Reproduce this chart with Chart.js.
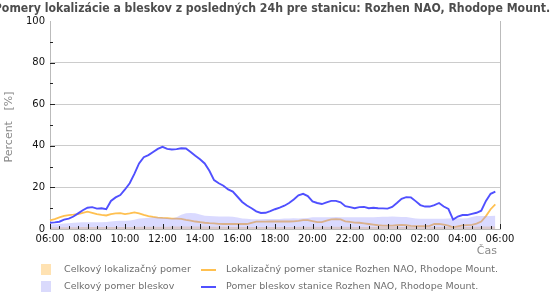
<!DOCTYPE html>
<html><head><meta charset="utf-8">
<script src="https://cdn.jsdelivr.net/npm/chart.js@4.4.1/dist/chart.umd.min.js"></script>
<style>html,body{margin:0;padding:0;background:#fff}#wrap{width:550px;height:300px;position:relative}</style>
</head><body><div id="wrap"><canvas id="c" width="550" height="300"></canvas></div>
<script>
// ---- data, 15-minute steps from 06:00 ----
const TITLE = 'Pomery lokalizácie a bleskov z posledných 24h pre stanicu: Rozhen NAO, Rhodope Mount.';
const Y_TITLE = 'Percent   [%]';
const X_TITLE = 'Čas';
const Y_TICKS = [0, 20, 40, 60, 80, 100];

// time categories 06:00 ... 06:00 (next day)
const TIMES = [];
for (let m = 0; m <= 24 * 60; m += 15) {
  const t = (6 * 60 + m) % (24 * 60);
  TIMES.push(String(Math.floor(t / 60)).padStart(2, '0') + ':' + String(t % 60).padStart(2, '0'));
}

const totalLocalization = [
  0.9,0.9,0.9,0.9, 0.9,0.9,0.9,1.0, 1.0,1.0,1.0,1.0, 1.0,1.0,1.0,1.0,
  1.0,1.0,1.0,1.1, 1.1,1.1,1.1,1.1, 1.1,1.1,1.2,1.2, 1.2,1.2,1.2,1.2,
  1.2,1.2,1.1,1.1, 1.1,1.1,1.0,1.0, 1.0,1.0,1.0,1.0, 1.0,1.0,1.0,1.0,
  1.0,1.0,1.0,1.0, 1.0,1.1,1.1,1.1, 1.1,1.1,1.1,1.1, 1.1,1.1,1.1,1.1,
  1.1,1.0,1.0,1.0, 1.0,1.0,1.0,1.0, 1.0,1.0,1.0,1.0, 1.0,1.0,1.0,1.0,
  1.0,1.0,1.0,1.0, 1.0,1.0,0.8,0.9, 1.0,1.0,1.1,1.1, 1.2,1.2,1.2,1.2
];
const stationLocalization = [
  4.2,4.8,5.6,6.3, 6.7,6.9,7.2,7.8, 8.3,7.8,7.2,6.8, 6.5,7.2,7.5,7.6,
  7.2,7.5,8.0,7.5, 6.8,6.2,5.8,5.5, 5.3,5.2,5.0,5.0, 4.9,4.4,4.0,3.6,
  3.3,3.0,2.8,2.7, 2.5,2.4,2.4,2.4, 2.4,2.4,2.4,3.0, 3.5,3.5,3.5,3.6,
  3.6,3.6,3.6,3.6, 3.7,3.9,4.3,4.3, 3.8,3.3,3.3,4.0, 4.6,4.7,4.6,3.7,
  3.4,3.1,3.0,2.7, 2.4,2.1,1.8,1.6, 1.6,1.6,1.8,2.0, 1.8,1.5,1.4,1.4,
  1.4,1.5,2.4,2.5, 2.1,1.6,0.8,1.3, 1.7,1.9,2.0,2.6, 3.6,6.2,9.5,11.8
];
const totalStrokes = [
  2.2,2.3,2.4,2.6, 2.8,3.0,3.1,3.2, 3.2,3.2,3.3,3.3, 3.4,3.6,3.8,4.0,
  4.0,4.1,4.4,5.0, 5.2,5.4,5.6,5.6, 5.5,5.3,5.1,5.6, 6.8,7.6,7.7,7.6,
  7.0,6.4,6.2,6.1, 6.0,6.0,6.0,5.9, 5.5,5.1,4.9,4.7, 4.7,4.7,4.8,4.8,
  4.8,4.8,5.0,5.1, 5.2,5.1,5.2,5.3, 5.6,5.6,5.7,5.7, 5.7,5.8,5.7,5.6,
  5.6,5.7,5.7,5.6, 5.7,5.7,5.8,5.9, 5.9,6.0,5.9,5.8, 5.8,5.4,5.0,4.9,
  4.9,4.9,4.9,4.9, 4.9,5.0,5.2,5.2, 5.0,5.2,5.8,6.2, 6.3,6.3,6.3,6.4
];
const stationStrokes = [
  3.0,3.2,3.5,4.5, 5.0,6.0,7.5,9.0, 10.2,10.5,9.8,10.0, 9.5,13.5,15.2,16.3,
  19.0,22.0,26.5,31.5, 34.5,35.5,37.0,38.5, 39.5,38.5,38.2,38.4, 38.8,38.7,37.0,35.2,
  33.5,31.5,28.0,23.5, 22.0,20.8,19.0,18.0, 15.5,13.0,11.3,10.0, 8.5,7.7,7.8,8.6,
  9.5,10.3,11.2,12.5, 14.2,16.2,16.9,15.8, 13.3,12.5,12.0,12.8, 13.5,13.5,12.8,11.0,
  10.5,10.0,10.5,10.6, 10.0,10.2,10.0,9.9, 9.8,10.6,12.5,14.5, 15.3,15.2,13.4,11.5,
  10.8,10.8,11.5,12.5, 10.8,9.6,4.5,6.0, 6.7,6.7,7.3,7.8, 8.8,13.5,16.9,18.0
];

const SERIES_NAMES = [
  'Celkový lokalizačný pomer',
  'Lokalizačný pomer stanice Rozhen NAO, Rhodope Mount.',
  'Celkový pomer bleskov',
  'Pomer bleskov stanice Rozhen NAO, Rhodope Mount.'
];

// ---- styles ----
const C_ORANGE_FILL = 'rgba(255,200,100,0.5)';
const C_ORANGE_LINE = 'rgb(255,192,80)';
const C_BLUE_FILL = 'rgba(150,150,255,0.35)';
const C_BLUE_LINE = 'rgb(80,80,255)';
const FONT = "'DejaVu Sans', sans-serif";
const FONT_C = "'DejaVu Sans Condensed', 'DejaVu Sans', sans-serif";

const decor = {
  id: 'decor',
  afterDatasetsDraw(chart) {
    const ctx = chart.ctx, a = chart.chartArea;
    const xs = chart.scales.x, ys = chart.scales.y;
    ctx.save();
    // right border
    ctx.strokeStyle = '#bbbbbb'; ctx.lineWidth = 1;
    ctx.beginPath(); ctx.moveTo(Math.round(a.right) + 0.5, a.top); ctx.lineTo(Math.round(a.right) + 0.5, a.bottom); ctx.stroke();
    // inward tick marks
    ctx.strokeStyle = '#222'; ctx.beginPath();
    for (let i = 0; i < TIMES.length; i += 2) {
      const x = Math.round(xs.getPixelForValue(i)) + 0.5;
      const len = i % 8 === 0 ? 5 : 3;
      ctx.moveTo(x, a.bottom); ctx.lineTo(x, a.bottom - len);
    }
    for (let v = 10; v < 100; v += 10) {
      const y = Math.round(ys.getPixelForValue(v)) + 0.5;
      const len = v % 20 === 0 ? 5 : 3;
      ctx.moveTo(a.left, y); ctx.lineTo(a.left + len, y);
    }
    ctx.stroke();
    ctx.restore();
  },
  afterDraw(chart) {
    const ctx = chart.ctx;
    ctx.save();
    // title
    ctx.fillStyle = '#4d4d4d';
    ctx.font = "bold 12.2px " + FONT_C;
    ctx.textAlign = 'center'; ctx.textBaseline = 'middle';
    ctx.fillText(TITLE, 272, 9);
    // y title
    ctx.fillStyle = '#8a8a8a';
    ctx.font = "11px " + FONT;
    ctx.save(); ctx.translate(9, 127); ctx.rotate(-Math.PI / 2);
    ctx.textAlign = 'center'; ctx.textBaseline = 'middle';
    ctx.fillText(Y_TITLE, 0, 0); ctx.restore();
    // x title
    ctx.textAlign = 'right'; ctx.textBaseline = 'middle';
    ctx.fillText(X_TITLE, 497, 251);
    // legend
    ctx.font = "9.5px " + FONT;
    ctx.textAlign = 'left';
    const ds = chart.data.datasets;
    const TXT = '#6e6e6e';
    // row 1
    ctx.fillStyle = 'rgb(255,226,178)'; ctx.fillRect(41, 264, 10, 11);
    ctx.fillStyle = TXT; ctx.fillText(ds[3].label, 64, 270);
    ctx.fillStyle = C_ORANGE_LINE; ctx.fillRect(201, 269, 15, 2);
    ctx.fillStyle = TXT; ctx.fillText(ds[2].label, 226, 270);
    // row 2
    ctx.fillStyle = 'rgb(218,218,252)'; ctx.fillRect(41, 281, 10, 11);
    ctx.fillStyle = TXT; ctx.fillText(ds[1].label, 64, 287);
    ctx.fillStyle = C_BLUE_LINE; ctx.fillRect(201, 286, 15, 2);
    ctx.fillStyle = TXT; ctx.fillText(ds[0].label, 226, 287);
    ctx.restore();
  }
};

new Chart(document.getElementById('c'), {
  type: 'line',
  data: {
    labels: TIMES,
    datasets: [
      { label: SERIES_NAMES[3], data: stationStrokes, borderColor: C_BLUE_LINE, borderWidth: 1.9, fill: false, pointRadius: 0, order: 0 },
      { label: SERIES_NAMES[2], data: totalStrokes, backgroundColor: C_BLUE_FILL, borderWidth: 0, borderColor: 'rgba(0,0,0,0)', fill: 'origin', pointRadius: 0, order: 1 },
      { label: SERIES_NAMES[1], data: stationLocalization, borderColor: C_ORANGE_LINE, borderWidth: 1.8, fill: false, pointRadius: 0, order: 2 },
      { label: SERIES_NAMES[0], data: totalLocalization, backgroundColor: C_ORANGE_FILL, borderWidth: 0, borderColor: 'rgba(0,0,0,0)', fill: 'origin', pointRadius: 0, order: 3 }
    ]
  },
  options: {
    responsive: false,
    animation: false,
    devicePixelRatio: 1,
    layout: { padding: { top: 21, right: 50, bottom: 0, left: 0 } },
    plugins: { legend: { display: false }, title: { display: false }, tooltip: { enabled: false } },
    elements: { line: { tension: 0 } },
    scales: {
      x: {
        type: 'category',
        offset: false,
        grid: { display: false, drawTicks: false },
        border: { display: true, color: '#bbbbbb' },
        ticks: {
          autoSkip: false, maxRotation: 0, minRotation: 0, padding: 4,
          color: '#111', font: { family: FONT, size: 10 },
          callback: (v, i) => (i % 8 === 0 ? TIMES[i] : null)
        },
        afterFit: s => { s.height = 71; }
      },
      y: {
        min: 0, max: 100,
        afterBuildTicks: s => { s.ticks = Y_TICKS.map(v => ({ value: v })); },
        grid: { drawTicks: false, color: c => (c.tick && c.tick.value > 0 && c.tick.value < 100 ? '#cccccc' : 'rgba(0,0,0,0)') },
        border: { display: true, color: '#bbbbbb' },
        ticks: { padding: 5, color: '#111', font: { family: FONT, size: 10 } },
        afterFit: s => { s.width = 50; }
      }
    }
  },
  plugins: [decor]
});
</script></body></html>
